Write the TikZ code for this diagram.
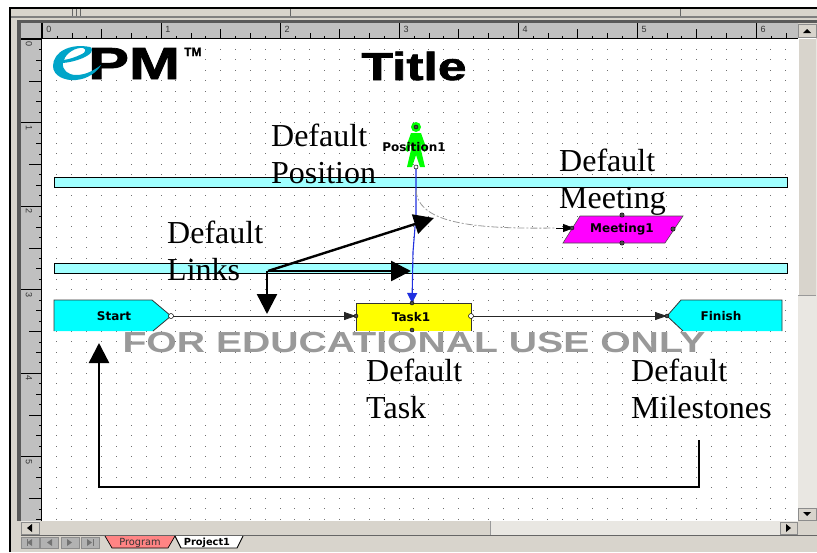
\documentclass[tikz,border=0pt]{standalone}
\usepackage{fontspec}
\setmainfont{Liberation Serif}
\newfontfamily\uifont{DejaVu Sans}
\newfontfamily\arialfont{Liberation Sans}
\newfontfamily\heavyfont{Liberation Sans Bold}[FakeBold=1.5]
\usetikzlibrary{arrows.meta}
\definecolor{chrome}{HTML}{D8D4CC}
\definecolor{checker}{HTML}{E9E7E2}
\definecolor{rulergray}{HTML}{C0C0C0}
\definecolor{lanefill}{HTML}{A0FFFF}
\definecolor{logoblue}{HTML}{00A5C9}
\definecolor{wmgray}{HTML}{999999}
\definecolor{linkblue}{HTML}{2030E0}
\definecolor{tabpink}{HTML}{FF8484}
\definecolor{puregreen}{HTML}{00FF00}
\definecolor{purecyan}{HTML}{00FFFF}
\definecolor{pureyellow}{HTML}{FFFF00}
\definecolor{puremagenta}{HTML}{FF00FF}
\definecolor{griddot}{HTML}{707070}
\tikzset{
  note/.style={anchor=north west,inner sep=0pt,align=left,text=black,font=\fontsize{32}{37}\selectfont},
  shapelabel/.style={inner sep=0pt,font=\uifont\bfseries\fontsize{12}{12}\selectfont},
  lanebar/.style={draw=black,line width=0.8pt,fill=lanefill,minimum width=733pt,minimum height=10pt,inner sep=0pt},
  flow/.style={draw=black!85,line width=0.8pt,-{Triangle[length=12pt,width=8pt]}},
  callout/.style={draw=black,line width=2.4pt,-{Triangle[length=20pt,width=20pt]}},
  port/.style={fill=black!70,draw=black,line width=0.4pt},
  openport/.style={fill=white,draw=black,line width=0.5pt},
  rulernum/.style={inner sep=0pt,text=black!80,font=\arialfont\fontsize{9}{9}\selectfont},
  btn/.style={fill=chrome,draw=black!45,line width=0.6pt}
}
\begin{document}
\begin{tikzpicture}[x=1pt,y=-1pt]
\useasboundingbox (0,0) rectangle (817,552);
\fill[white] (0,0) rectangle (817,552);
% window chrome
\fill[chrome] (10,8) rectangle (817,552);
\draw[black,line width=1.2pt] (10,552) -- (10,8) -- (817,8);
\fill[black!50] (11,16) rectangle (817,18);
\fill[black!65] (17,20) rectangle (817,23);
\fill[black!65] (17,20) rectangle (21,521);
\fill[rulergray] (21,23) rectangle (798,39);
\fill[rulergray] (21,23) rectangle (42,521);
\draw[black!60,line width=0.6pt] (72,9) -- (72,16) (76,9) -- (76,16) (80,9) -- (80,16) (290,9) -- (290,16) (680,9) -- (680,16);
% canvas
\fill[white] (42,39) rectangle (798,521);
\draw[black,line width=0.8pt] (21,38.6) -- (798,38.6);
\draw[black,line width=0.8pt] (41.6,23) -- (41.6,521);
% rulers
\foreach \k in {0,...,50}{
  \pgfmathsetmacro{\tx}{42+14.875*\k}
  \pgfmathtruncatemacro{\ma}{mod(\k,8)}
  \pgfmathtruncatemacro{\mb}{mod(\k,4)}
  \pgfmathtruncatemacro{\mc}{mod(\k,2)}
  \pgfmathsetmacro{\tl}{\ma==0 ? 15 : (\mb==0 ? 9 : (\mc==0 ? 5 : 2))}
  \draw[black,line width=0.5pt] (\tx,38) -- (\tx,38-\tl);
}
\foreach \k in {0,...,46}{
  \pgfmathsetmacro{\ty}{39+10.44*\k}
  \pgfmathtruncatemacro{\ma}{mod(\k,8)}
  \pgfmathtruncatemacro{\mb}{mod(\k,4)}
  \pgfmathtruncatemacro{\mc}{mod(\k,2)}
  \pgfmathsetmacro{\tl}{\ma==0 ? 20 : (\mb==0 ? 12 : (\mc==0 ? 5 : 2))}
  \draw[black,line width=0.5pt] (41,\ty) -- (41-\tl,\ty);
}
\foreach \n in {0,...,6}{
  \node[rulernum] (rt\n) at (49+119*\n,29.5) {\n};
}
\foreach \n in {0,...,5}{
  \node[rulernum,rotate=-90] (rl\n) at (29,44+83.5*\n) {\n};
}
% grid
\foreach \i in {1,...,50}{
  \foreach \j in {1,...,46}{
    \fill[griddot] ({42+14.875*\i-0.45},{39+10.44*\j-0.45}) rectangle ++(0.9,0.9);
  }
}
\fill[white] (43,40) rectangle (205,75);
% scrollbars
\fill[checker] (798,39) rectangle (817,521);
\fill[chrome] (798,38) rectangle (816,295);
\draw[white,line width=0.6pt] (798.5,295) -- (798.5,38) -- (816,38);
\draw[black!40,line width=0.6pt] (798,295) -- (816,295);
\draw[btn] (798,24) rectangle (816,37);
\fill[black] (803,33) -- (807,29) -- (811,33) -- cycle;
\draw[btn] (798,508) rectangle (816,520);
\fill[black] (803,512) -- (807,516) -- (811,512) -- cycle;
\fill[checker] (21,521) rectangle (798,535);
\fill[chrome] (40,521) rectangle (490,535);
\draw[black!40,line width=0.6pt] (490,521) -- (490,535);
\draw[btn] (21,522) rectangle (39,534);
\fill[black] (32,524) -- (27,528) -- (32,532) -- cycle;
\draw[btn] (780,522) rectangle (797,534);
\fill[black] (786,524) -- (791,528) -- (786,532) -- cycle;
\draw[black!60,line width=0.8pt] (21,535.5) -- (817,535.5);
% tabs
\foreach \bx in {21,40,61,81}{
  \draw[fill=black!30,draw=black!45,line width=0.6pt] (\bx,537) rectangle ++(18,11);
}
\fill[black!55] (32,539) -- (32,546) -- (27,542.5) -- cycle;
\fill[black!55] (27,539) rectangle (28,546);
\fill[black!55] (52,539) -- (52,546) -- (47,542.5) -- cycle;
\fill[black!55] (67,539) -- (67,546) -- (72,542.5) -- cycle;
\fill[black!55] (87,539) -- (87,546) -- (92,542.5) -- cycle;
\fill[black!55] (93,539) rectangle (94,546);
\draw[fill=tabpink,draw=black,line width=0.7pt] (105,536) -- (112,548) -- (168,548) -- (175,536);
\draw[fill=white,draw=black,line width=0.9pt] (175,536) -- (181,548) -- (237,548) -- (243,536);
\node[inner sep=0pt,text=black!80,font=\uifont\fontsize{9.8}{10}\selectfont] (tabprogram) at (140,542.5) {Program};
\node[inner sep=0pt,font=\uifont\bfseries\fontsize{9.8}{10}\selectfont] (tabproject) at (207,542.5) {Project1};
% logo
\node[anchor=base west,inner sep=0pt,font=\heavyfont\fontsize{45}{45}\selectfont] (logopm) at (88,79) {\scalebox{1.36}[1]{PM}};
\node[anchor=base west,inner sep=0pt,font=\heavyfont\fontsize{12}{12}\selectfont] (logotm) at (184,56) {TM};
\fill[logoblue,even odd rule] (90,47) .. controls (70,43) and (53,52) .. (53,66) .. controls (53,76) and (65,81) .. (76,80) .. controls (88,79) and (97,72) .. (101,65) .. controls (92,72) and (84,75) .. (76,75) .. controls (68,75) and (62,70) .. (63,63) .. controls (75,62) and (92,56) .. (92,50) .. controls (92,48) and (91,47) .. (90,47) -- cycle
 (64,60) .. controls (66,53) and (76,47) .. (83,48) .. controls (87,49) and (85,53) .. (82,54) .. controls (76,57) and (70,59) .. (64,60) -- cycle;
% title
\node[anchor=base,inner sep=0pt,font=\heavyfont\fontsize{39}{39}\selectfont] (title) at (414,80) {\scalebox{1.32}[1]{Title}};
% lanes
\node[lanebar] (laneA) at (420.5,182) {};
\node[lanebar] (laneB) at (420.5,268.5) {};
% milestone and task shapes
\fill[purecyan] (54,300) -- (152,300) -- (171,316) -- (153,331) -- (54,331) -- cycle;
\draw[black!80,line width=0.8pt] (54,331) -- (54,300) -- (152,300) -- (171,316) -- (153,331);
\node[shapelabel] (start) at (114,316) {Start};
\coordinate (starttip) at (171,316);
\fill[purecyan] (667,316) -- (681,300) -- (782,300) -- (782,331) -- (683,331) -- cycle;
\draw[black!80,line width=0.8pt] (683,331) -- (667,316) -- (681,300) -- (782,300) -- (782,331);
\node[shapelabel] (finish) at (721,316) {Finish};
\coordinate (finishtip) at (667,316);
\fill[pureyellow] (356,303) rectangle (471,331);
\draw[black!80,line width=0.8pt] (356,331) -- (356,303) -- (471,303) -- (471,331);
\node[shapelabel] (task) at (411,317) {Task1};
\coordinate (taskleft) at (356,316);
\coordinate (taskright) at (471,316);
\coordinate (tasktop) at (412,303);
\draw[fill=puremagenta,draw=black!70,line width=0.6pt] (580,216) -- (683,216) -- (665,243) -- (563,243) -- cycle;
\node[shapelabel] (meeting) at (622,229) {Meeting1};
\coordinate (meetingleft) at (574,228);
% position figure
\fill[puregreen] (416,127) circle (5);
\fill[puregreen] (411,133) -- (421,133) -- (427,150) -- (424,152) -- (421,143) -- (421,150) -- (425,167) -- (420,167) -- (416,155) -- (412,167) -- (407,167) -- (411,150) -- (411,143) -- (408,152) -- (405,150) -- cycle;
\node[shapelabel] (position) at (414,147) {Position1};
\coordinate (positionfoot) at (416,167);
% connectors
\draw[flow] (starttip) -- (taskleft);
\draw[flow] (taskright) -- (finishtip);
\draw[linkblue,line width=1.1pt,-{Triangle[length=10pt,width=10pt]}] (positionfoot) -- (416,215) -- (413,252) -- (tasktop);
\coordinate (gray1) at (416,190);
\coordinate (gray2) at (556,228);
\draw[black!40,line width=0.8pt,dash pattern=on 7pt off 2pt on 2pt off 2pt] (gray1) .. controls (418,225) and (480,229) .. (gray2);
\draw[black,line width=0.8pt,-{Triangle[length=11pt,width=8pt]}] (gray2) -- (meetingleft);
% ports
\fill[port] (416,127) circle (2);
\draw[openport] (416,167) circle (2);
\draw[openport] (171,316) circle (2.5);
\draw[openport] (471,316) circle (2.5);
\fill[port] (356,316) circle (2);
\fill[port] (412,303) circle (2);
\fill[port] (412,330) circle (2);
\fill[port] (667,316) circle (2);
\fill[port] (622,215) circle (2.2);
\fill[port] (622,243) circle (2.2);
\fill[port] (673,229) circle (2.2);
\fill[port] (572,228) circle (2);
% watermark
\node[anchor=base,inner sep=0pt,text=wmgray,font=\arialfont\bfseries\fontsize{29}{29}\selectfont] (watermark) at (414,352) {\scalebox{1.35}[1]{FOR EDUCATIONAL USE ONLY}};
% notes
\node[note] (notePosition) at (271,124) {Default\\Position};
\node[note] (noteMeeting) at (559,149) {Default\\Meeting};
\node[note] (noteLinks) at (167,221) {Default\\Links};
\node[note] (noteTask) at (366,359) {Default\\Task};
\node[note] (noteMiles) at (631,359) {Default\\Milestones};
% callouts
\coordinate (fan) at (268,271);
\coordinate (fandown) at (267,271);
\coordinate (arrA) at (434,218);
\coordinate (arrB) at (411,271);
\coordinate (arrC) at (267,314);
\draw[callout] (fan) -- (arrA);
\draw[callout] (fan) -- (arrB);
\draw[callout] (fandown) -- (arrC);
\coordinate (loopstart) at (699,440);
\coordinate (loopend) at (99,343);
\draw[callout] (loopstart) |- (99,487) -- (loopend);
\end{tikzpicture}
\end{document}
